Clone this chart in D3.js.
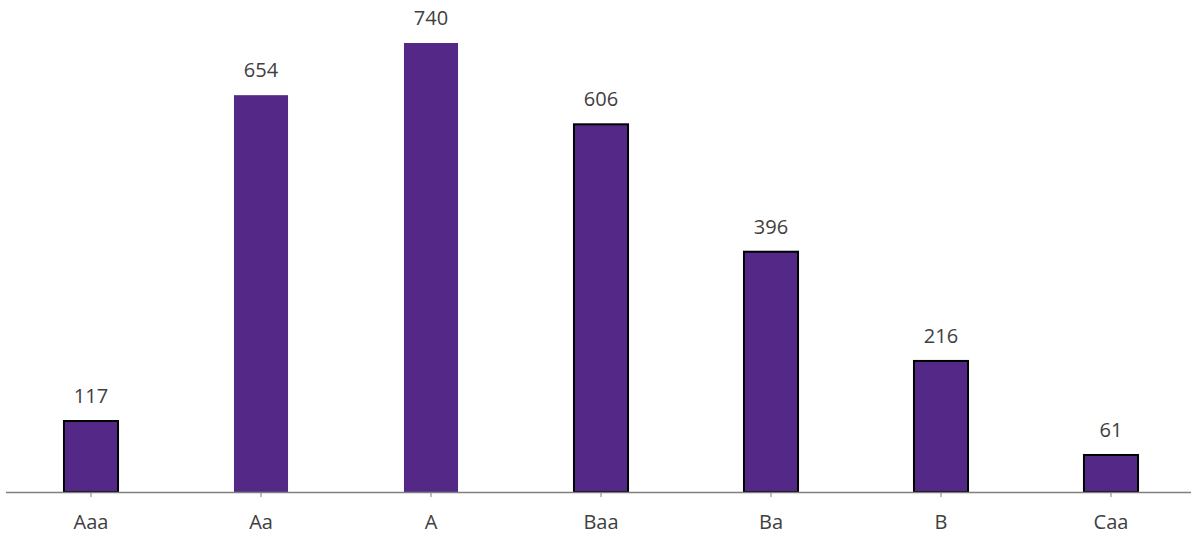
<!DOCTYPE html>
<html><head><meta charset="utf-8">
<script src="https://cdn.jsdelivr.net/npm/d3@7"></script>
<style>body{margin:0;background:#fff}svg{display:block}</style>
</head><body>
<svg id="c" width="1191" height="538"></svg>
<script>
const categories = ["Aaa","Aa","A","Baa","Ba","B","Caa"];
const values = [117,654,740,606,396,216,61];
const outlined = [true,false,false,true,true,true,true];

const svg = d3.select("#c");
const baseY = 492;
const x = d3.scaleBand().domain(categories).range([6,1196]).paddingInner(0.682).paddingOuter(0.341);
const y = d3.scaleLinear().domain([0,740]).range([baseY,43]);

svg.selectAll("rect.bar").data(categories).enter().append("rect")
  .attr("class","bar")
  .attr("x", d => x(d))
  .attr("width", x.bandwidth())
  .attr("y", (d,i) => y(values[i]))
  .attr("height", (d,i) => baseY - y(values[i]))
  .attr("fill","#532886")
  .attr("stroke",(d,i) => outlined[i] ? "#000" : "none")
  .attr("stroke-width",2);

const ax = svg.append("g").attr("transform",`translate(0,${baseY})`)
  .call(d3.axisBottom(x).tickSize(5).tickSizeOuter(0).tickPadding(18));
ax.select(".domain").attr("stroke","#808080").attr("stroke-width",1.5).attr("d","M6,0.5H1191");
ax.selectAll(".tick line").attr("stroke","#808080");
ax.selectAll(".tick text").attr("font-family","'Open Sans', sans-serif").attr("font-size",20).attr("fill","#404040");

svg.selectAll("text.val").data(categories).enter().append("text")
  .attr("class","val")
  .attr("x", d => x(d) + x.bandwidth()/2)
  .attr("y", (d,i) => y(values[i]) - 18)
  .attr("text-anchor","middle")
  .attr("font-family","'Open Sans', sans-serif")
  .attr("font-size",20)
  .attr("fill","#404040")
  .text((d,i) => values[i]);
</script>
</body></html>
